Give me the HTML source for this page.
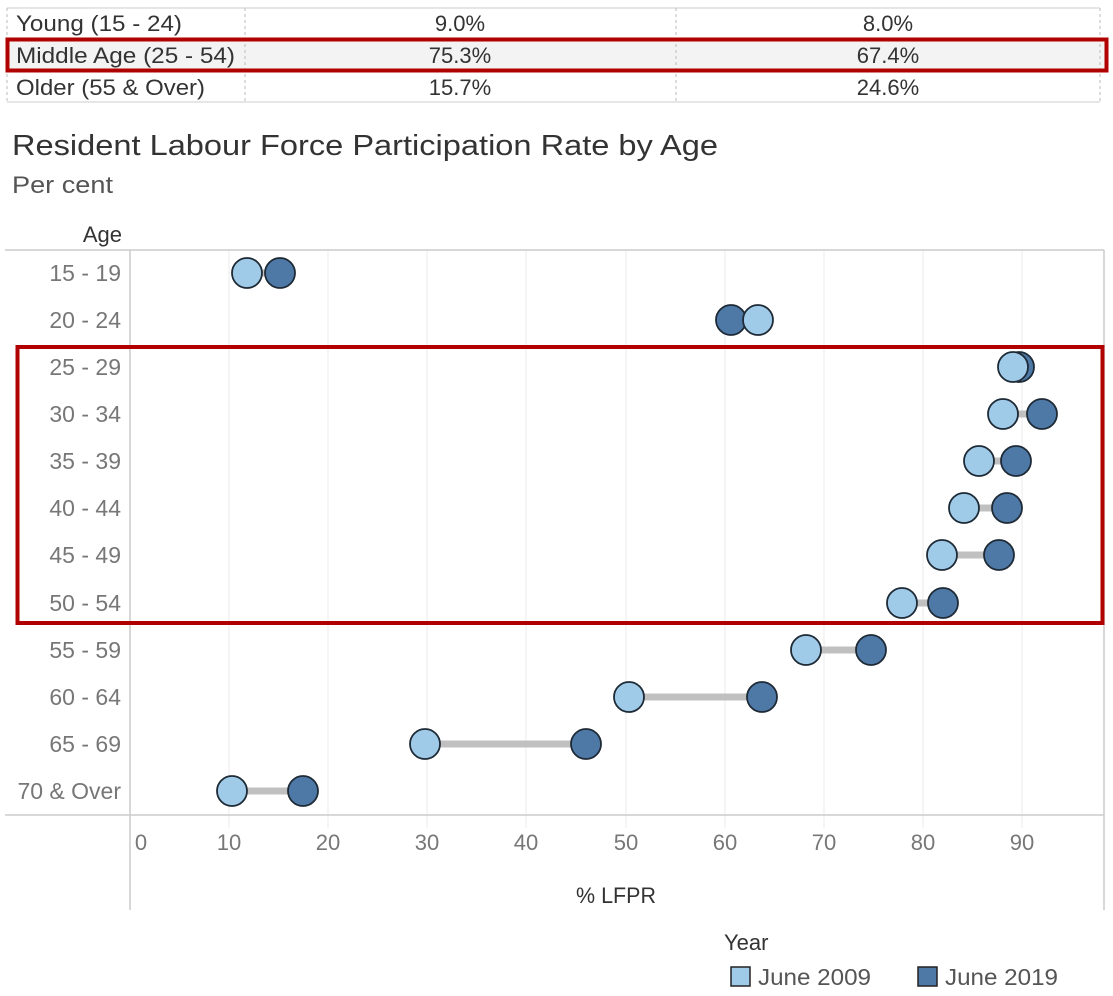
<!DOCTYPE html>
<html><head><meta charset="utf-8"><style>
html,body{margin:0;padding:0;background:#fff;}
svg{display:block;font-family:"Liberation Sans",sans-serif;}
</style></head><body>
<svg width="1113" height="996" viewBox="0 0 1113 996" xmlns="http://www.w3.org/2000/svg">
<!-- table -->
<rect x="7" y="40" width="1098" height="31" fill="#f3f3f3"/>
<line x1="7" y1="8" x2="1100" y2="8" stroke="#ccc" stroke-width="1"/>
<line x1="7" y1="102" x2="1100" y2="102" stroke="#ccc" stroke-width="1"/>
<g stroke="#bbb" stroke-dasharray="3,3" stroke-width="1">
<line x1="7" y1="8" x2="7" y2="102"/><line x1="245" y1="8" x2="245" y2="102"/><line x1="676" y1="8" x2="676" y2="102"/><line x1="1100" y1="8" x2="1100" y2="102"/>
</g>
<g font-size="22" fill="#333">
<text x="16" y="31" textLength="166" lengthAdjust="spacingAndGlyphs">Young (15 - 24)</text>
<text x="16" y="63" textLength="219" lengthAdjust="spacingAndGlyphs">Middle Age (25 - 54)</text>
<text x="16" y="95" textLength="189" lengthAdjust="spacingAndGlyphs">Older (55 &amp; Over)</text>
<g text-anchor="middle">
<text x="460" y="31">9.0%</text><text x="888" y="31">8.0%</text>
<text x="460" y="63">75.3%</text><text x="888" y="63">67.4%</text>
<text x="460" y="95">15.7%</text><text x="888" y="95">24.6%</text>
</g></g>
<rect x="7.5" y="39.5" width="1099" height="31" fill="none" stroke="#b00000" stroke-width="4"/>
<!-- titles -->
<text x="12" y="155" font-size="29" fill="#333" textLength="706" lengthAdjust="spacingAndGlyphs">Resident Labour Force Participation Rate by Age</text>
<text x="12" y="193" font-size="24" fill="#555" textLength="101" lengthAdjust="spacingAndGlyphs">Per cent</text>
<text x="122" y="242" font-size="22" fill="#333" text-anchor="end">Age</text>
<!-- grid -->
<g stroke="#ebebeb" stroke-width="1">
<line x1="229" y1="250" x2="229" y2="828"/><line x1="328" y1="250" x2="328" y2="828"/><line x1="427" y1="250" x2="427" y2="828"/><line x1="526" y1="250" x2="526" y2="828"/><line x1="626" y1="250" x2="626" y2="828"/><line x1="725" y1="250" x2="725" y2="828"/><line x1="824" y1="250" x2="824" y2="828"/><line x1="923" y1="250" x2="923" y2="828"/><line x1="1022" y1="250" x2="1022" y2="828"/>
</g>
<line x1="5" y1="250" x2="1104" y2="250" stroke="#ccc" stroke-width="1.5"/>
<line x1="5" y1="815" x2="1104" y2="815" stroke="#ccc" stroke-width="1.5"/>
<line x1="130" y1="250" x2="130" y2="910" stroke="#ccc" stroke-width="1.5"/>
<line x1="1104" y1="250" x2="1104" y2="910" stroke="#ccc" stroke-width="1.5"/>
<!-- y labels -->
<g font-size="23" fill="#777" text-anchor="end">
<text x="121" y="281">15 - 19</text><text x="121" y="328">20 - 24</text><text x="121" y="375">25 - 29</text><text x="121" y="422">30 - 34</text><text x="121" y="469">35 - 39</text><text x="121" y="516">40 - 44</text><text x="121" y="563">45 - 49</text><text x="121" y="611">50 - 54</text><text x="121" y="658">55 - 59</text><text x="121" y="705">60 - 64</text><text x="121" y="752">65 - 69</text><text x="121" y="799">70 &amp; Over</text>
</g>
<!-- x labels -->
<g font-size="22" fill="#777" text-anchor="middle">
<text x="141" y="850">0</text><text x="229" y="850">10</text><text x="328" y="850">20</text><text x="427" y="850">30</text><text x="526" y="850">40</text><text x="626" y="850">50</text><text x="725" y="850">60</text><text x="824" y="850">70</text><text x="923" y="850">80</text><text x="1022" y="850">90</text>
</g>
<text x="576" y="903" font-size="22" fill="#333" textLength="80" lengthAdjust="spacingAndGlyphs">% LFPR</text>
<!-- connectors -->
<g stroke="#c0c0c0" stroke-width="7">
<line x1="247" y1="273" x2="280" y2="273"/><line x1="731" y1="320" x2="758" y2="320"/><line x1="1013" y1="367" x2="1019" y2="367"/><line x1="1003" y1="414" x2="1042" y2="414"/><line x1="979" y1="461" x2="1016" y2="461"/><line x1="964" y1="508" x2="1007" y2="508"/><line x1="942" y1="555" x2="999" y2="555"/><line x1="902" y1="603" x2="943" y2="603"/><line x1="806" y1="650" x2="871" y2="650"/><line x1="629" y1="697" x2="762" y2="697"/><line x1="425" y1="744" x2="586" y2="744"/><line x1="232" y1="791" x2="303" y2="791"/>
</g>
<g fill="#4e79a7" stroke="#1e2a36" stroke-width="1.8">
<circle cx="280" cy="273" r="15"/><circle cx="731" cy="320" r="15"/><circle cx="1019" cy="367" r="15"/><circle cx="1042" cy="414" r="15"/><circle cx="1016" cy="461" r="15"/><circle cx="1007" cy="508" r="15"/><circle cx="999" cy="555" r="15"/><circle cx="943" cy="603" r="15"/><circle cx="871" cy="650" r="15"/><circle cx="762" cy="697" r="15"/><circle cx="586" cy="744" r="15"/><circle cx="303" cy="791" r="15"/>
</g>
<g fill="#a0cbe8" stroke="#1e2a36" stroke-width="1.8">
<circle cx="247" cy="273" r="15"/><circle cx="758" cy="320" r="15"/><circle cx="1013" cy="367" r="15"/><circle cx="1003" cy="414" r="15"/><circle cx="979" cy="461" r="15"/><circle cx="964" cy="508" r="15"/><circle cx="942" cy="555" r="15"/><circle cx="902" cy="603" r="15"/><circle cx="806" cy="650" r="15"/><circle cx="629" cy="697" r="15"/><circle cx="425" cy="744" r="15"/><circle cx="232" cy="791" r="15"/>
</g>
<rect x="17.5" y="347" width="1085" height="276" fill="none" stroke="#b00000" stroke-width="4"/>
<!-- legend -->
<text x="724" y="950" font-size="22" fill="#333">Year</text>
<rect x="731" y="967" width="19" height="19" fill="#a0cbe8" stroke="#222" stroke-width="1.5"/>
<text x="758" y="985" font-size="23" fill="#555" textLength="113" lengthAdjust="spacingAndGlyphs">June 2009</text>
<rect x="918" y="967" width="19" height="19" fill="#4e79a7" stroke="#222" stroke-width="1.5"/>
<text x="945" y="985" font-size="23" fill="#555" textLength="113" lengthAdjust="spacingAndGlyphs">June 2019</text>
</svg>
</body></html>
